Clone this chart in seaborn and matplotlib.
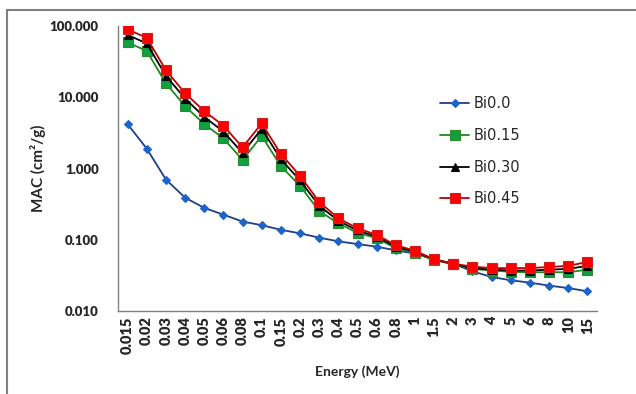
import numpy as np
import pandas as pd
import matplotlib
matplotlib.use("Agg")
import matplotlib.pyplot as plt
from matplotlib.ticker import FixedLocator, FuncFormatter, LogLocator, NullFormatter
from matplotlib.lines import Line2D
import seaborn as sns

energies = ["0.015", "0.02", "0.03", "0.04", "0.05", "0.06", "0.08", "0.1", "0.15", "0.2",
            "0.3", "0.4", "0.5", "0.6", "0.8", "1", "1.5", "2", "3", "4", "5", "6", "8", "10", "15"]

bi00 = [4.2, 1.9, 0.70, 0.39, 0.28, 0.225, 0.18, 0.16, 0.138, 0.123, 0.107, 0.095, 0.087, 0.080,
        0.071, 0.064, 0.053, 0.046, 0.036, 0.030, 0.027, 0.025, 0.0227, 0.021, 0.0189]
bi015 = [59, 44.6, 15.7, 7.5, 4.2, 2.65, 1.32, 2.86, 1.08, 0.57, 0.253, 0.17, 0.125, 0.105,
         0.076, 0.065, 0.052, 0.045, 0.039, 0.037, 0.0355, 0.035, 0.035, 0.035, 0.038]
bi030 = [75, 57, 20, 9.6, 5.3, 3.3, 1.65, 3.6, 1.35, 0.68, 0.30, 0.185, 0.135, 0.11,
         0.080, 0.068, 0.053, 0.046, 0.040, 0.038, 0.037, 0.037, 0.038, 0.039, 0.043]
bi045 = [90, 68, 24, 11.4, 6.4, 4.0, 1.98, 4.3, 1.6, 0.79, 0.34, 0.20, 0.145, 0.117,
         0.084, 0.070, 0.053, 0.046, 0.042, 0.040, 0.040, 0.040, 0.0415, 0.043, 0.0488]

series_names = ["Bi0.0", "Bi0.15", "Bi0.30", "Bi0.45"]
series_vals = [bi00, bi015, bi030, bi045]

rows = []
for name, vals in zip(series_names, series_vals):
    for e, v in zip(energies, vals):
        rows.append({"Energy": e, "MAC": v, "Series": name})
df = pd.DataFrame(rows)
df["Energy"] = pd.Categorical(df["Energy"], categories=energies, ordered=True)
df["pos"] = df["Energy"].cat.codes

sns.set_style("white")
plt.rcParams["font.family"] = ["Lato", "DejaVu Sans"]

line_colors = {"Bi0.0": "#1F3E8C", "Bi0.15": "#1A8A1A", "Bi0.30": "#000000", "Bi0.45": "#C00000"}
face_colors = {"Bi0.0": "#1E64C8", "Bi0.15": "#10A040", "Bi0.30": "#000000", "Bi0.45": "#FF0000"}
edge_colors = {"Bi0.0": "#1E64C8", "Bi0.15": "#2E8B2E", "Bi0.30": "#000000", "Bi0.45": "#D02020"}
markers = {"Bi0.0": "D", "Bi0.15": "s", "Bi0.30": "^", "Bi0.45": "s"}
msizes = {"Bi0.0": 4.2, "Bi0.15": 6.8, "Bi0.30": 6.0, "Bi0.45": 6.8}

fig = plt.figure(figsize=(6.36, 3.94), dpi=100)
ax = fig.add_axes([118 / 636, 1 - 311 / 394, (597 - 118) / 636, (311 - 26) / 394])

for name in series_names:
    sub = df[df["Series"] == name]
    sns.lineplot(data=sub, x="pos", y="MAC", ax=ax, color=line_colors[name], lw=1.3,
                 marker=markers[name], markersize=msizes[name],
                 markerfacecolor=face_colors[name], markeredgecolor=edge_colors[name],
                 markeredgewidth=0.8, legend=False, zorder=3)

ax.set_yscale("log")
ax.set_ylim(0.01, 100)
ax.set_xlim(-0.5, len(energies) - 0.5)
ax.yaxis.set_major_locator(FixedLocator([0.01, 0.1, 1, 10, 100]))
ax.yaxis.set_major_formatter(FuncFormatter(lambda v, p: f"{v:.3f}"))
ax.yaxis.set_minor_locator(LogLocator(base=10, subs=np.arange(2, 10)))
ax.yaxis.set_minor_formatter(NullFormatter())

ax.set_xticks(range(len(energies)))
ax.set_xticklabels(energies, rotation=90)
ax.xaxis.set_minor_locator(FixedLocator(np.arange(-0.5, len(energies), 1)))
ax.tick_params(axis="x", which="major", length=3, direction="in", color="#808080", pad=4, width=0.8,
               labelsize=10.5)
ax.tick_params(axis="x", which="minor", length=3, direction="in", color="#808080", width=0.8)
ax.tick_params(axis="y", which="major", length=5, direction="out", color="#808080", width=0.8,
               labelsize=9.5, pad=9)
ax.tick_params(axis="y", which="minor", length=3, direction="out", color="#808080", width=0.8)

for s in ["top", "right"]:
    ax.spines[s].set_visible(False)
for s in ["left", "bottom"]:
    ax.spines[s].set_color("#808080")
    ax.spines[s].set_linewidth(1.0)

ax.set_xlabel("Energy (MeV)", fontweight="bold", fontsize=10, labelpad=8)
ax.set_ylabel("MAC (cm²/g)", fontweight="bold", fontsize=11)
ax.yaxis.set_label_coords(-0.150, 0.5)

handles = [Line2D([0], [0], color=line_colors[n], lw=1.3, marker=markers[n], markersize=msizes[n],
                  markerfacecolor=face_colors[n], markeredgecolor=edge_colors[n], markeredgewidth=0.8)
           for n in series_names]
fig.legend(handles, series_names, loc="upper left", bbox_to_anchor=(427 / 636, 1 - 83 / 394),
           frameon=False, labelspacing=1.15, handlelength=2.0, handletextpad=0.3,
           prop={"family": ["DejaVu Sans"], "size": 10.5})

# outer frame lines (top and left)
fig.add_artist(Line2D([7 / 636, 1.0], [1 - 10 / 394, 1 - 10 / 394], transform=fig.transFigure,
                      color="#808080", lw=1.5))
fig.add_artist(Line2D([7 / 636, 7 / 636], [0, 1 - 10 / 394], transform=fig.transFigure,
                      color="#808080", lw=1.5))

fig.canvas.draw()
for lab in ax.get_xticklabels() + ax.get_yticklabels():
    lab.set_fontweight("heavy")

fig.savefig("out.png", dpi=100)
